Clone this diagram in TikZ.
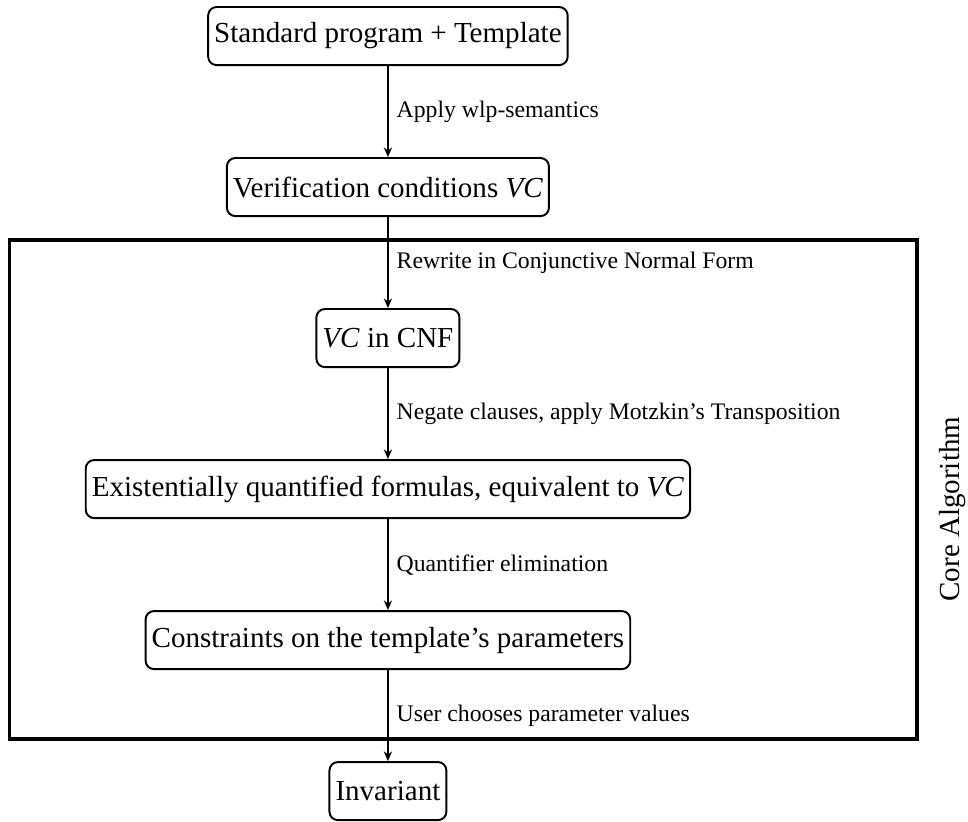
\documentclass[tikz,border=0pt]{standalone}
\usepackage{fontspec}
\setmainfont{Liberation Serif}
\usetikzlibrary{positioning,arrows.meta}

\tikzset{
    stepbox/.style={draw, thick, rounded corners=3.5pt, minimum height=24pt,
        inner xsep=2.5pt, font=\fontsize{12}{14}\selectfont},
    flow/.style={-{Stealth[length=4pt,width=3.4pt]}, semithick},
    lab/.style={right, font=\fontsize{9.8}{12}\selectfont}
}

\begin{document}
\begin{tikzpicture}[node distance=37.6pt]
    \useasboundingbox (-160.3pt,14.9pt) rectangle (239.7pt,-324.4pt);
    % the steps
    \node[stepbox] (prog) at (0,0) {Standard program + Template};
    \node[stepbox, below=of prog] (vc) {Verification conditions \textit{VC}};
    \node[stepbox, below=of vc] (cnf) {\textit{VC} in CNF};
    \node[stepbox, below=of cnf] (exq) {Existentially quantified formulas, equivalent to \textit{VC}};
    \node[stepbox, below=of exq] (cons) {Constraints on the template's parameters};
    \node[stepbox, below=of cons] (inv) {Invariant};
    % core algorithm frame
    \draw[line width=1.3pt] (-156.2pt,-84.3pt) rectangle (218.6pt,-290.5pt);
    \node[rotate=90, font=\fontsize{12}{14}\selectfont] (core) at (233.5pt,-195.5pt) {Core Algorithm};
    % transitions
    \draw[flow] (prog) -- node[lab] (l1) {Apply wlp-semantics} (vc);
    \draw[flow] (vc) -- node[lab] (l2) {Rewrite in Conjunctive Normal Form} (cnf);
    \draw[flow] (cnf) -- node[lab] (l3) {Negate clauses, apply Motzkin's Transposition} (exq);
    \draw[flow] (exq) -- node[lab] (l4) {Quantifier elimination} (cons);
    \draw[flow] (cons) -- node[lab] (l5) {User chooses parameter values} (inv);
\end{tikzpicture}
\end{document}
